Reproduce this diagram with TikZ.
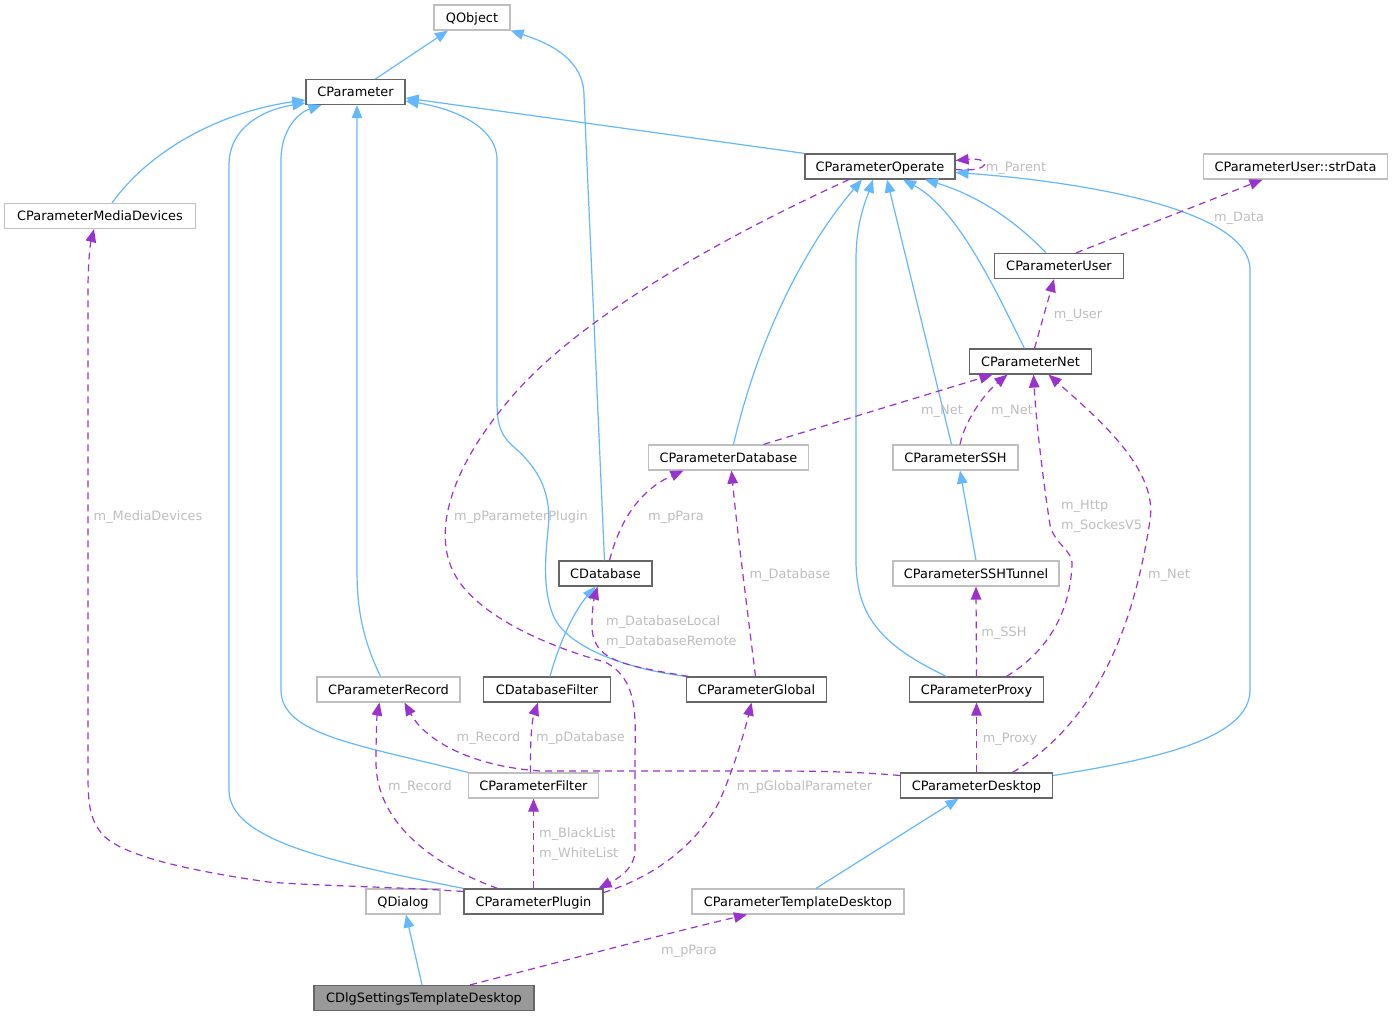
\documentclass[tikz,border=0pt]{standalone}
\usepackage{fontspec}
\setmainfont{DejaVu Sans}
\usetikzlibrary{arrows.meta}
\definecolor{inhc}{HTML}{63B8FF}
\definecolor{usec}{HTML}{9A32CD}
\definecolor{lblc}{HTML}{BEBEBE}
\definecolor{dkb}{HTML}{666666}
\definecolor{ltb}{HTML}{BFBFBF}
\definecolor{rootf}{HTML}{999999}
\begin{document}
\begin{tikzpicture}[x=1pt,y=-1pt,
  every node/.style={font=\fontsize{12.9}{15}\selectfont},
  boxbase/.style={rectangle, minimum height=25pt, inner xsep=2pt, inner ysep=0pt, text height=9.4pt, text depth=0pt, line width=1.2pt, fill=white},
  dkbox/.style={boxbase, draw=dkb},
  ltbox/.style={boxbase, draw=ltb},
  rootbox/.style={boxbase, draw=dkb, fill=rootf},
  lbl/.style={text=lblc, inner sep=0pt, text height=9.4pt, text depth=0pt},
  inh/.style={draw=inhc, line width=1.2pt, -{Triangle[length=13pt,width=10.5pt]}},
  use/.style={draw=usec, line width=1.2pt, dash pattern=on 7pt off 5pt, -{Triangle[length=13pt,width=10.5pt]}},
]
\fill[white] (0,0) rectangle (1393,1016);
\useasboundingbox (0,0) rectangle (1393,1016);

% nodes
\node[ltbox, minimum width=76pt] (qobj) at (472,17.5) {QObject};
\node[dkbox, minimum width=99pt] (cpar) at (355.5,92) {CParameter};
\node[dkbox, minimum width=150pt] (cop) at (880,166.5) {CParameterOperate};
\node[ltbox, minimum width=184pt] (strd) at (1295.5,166.5) {CParameterUser::strData};
\node[ltbox, minimum width=191pt] (cmed) at (100,216) {CParameterMediaDevices};
\node[dkbox, minimum width=129pt] (cuser) at (1059,266) {CParameterUser};
\node[dkbox, minimum width=122pt] (cnet) at (1030.5,361.5) {CParameterNet};
\node[ltbox, minimum width=160pt] (cpdb) at (728.5,457.5) {CParameterDatabase};
\node[ltbox, minimum width=125pt] (cssh) at (955.5,457.5) {CParameterSSH};
\node[dkbox, minimum width=93pt] (cdb) at (605.5,573.5) {CDatabase};
\node[ltbox, minimum width=166pt] (ctun) at (976,573.5) {CParameterSSHTunnel};
\node[ltbox, minimum width=143pt] (crec) at (388.5,689.5) {CParameterRecord};
\node[dkbox, minimum width=127pt] (cdbf) at (547,689.5) {CDatabaseFilter};
\node[dkbox, minimum width=140pt] (cglob) at (756.5,689.5) {CParameterGlobal};
\node[dkbox, minimum width=134pt] (cproxy) at (976.5,689.5) {CParameterProxy};
\node[ltbox, minimum width=130pt] (cfilt) at (533.5,785.5) {CParameterFilter};
\node[dkbox, minimum width=152pt] (cdesk) at (976.5,785.5) {CParameterDesktop};
\node[ltbox, minimum width=74pt] (qdlg) at (403,901.5) {QDialog};
\node[dkbox, minimum width=139pt] (cplug) at (533.5,901.5) {CParameterPlugin};
\node[ltbox, minimum width=212pt] (ctmpl) at (798,901.5) {CParameterTemplateDesktop};
\node[rootbox, minimum width=220pt] (cdlg) at (424,998) {CDlgSettingsTemplateDesktop};

% inheritance edges
\draw[inh] ([xshift=20pt]cpar.north) -- ([xshift=-24pt]qobj.south);
\draw[inh] ([xshift=-1pt]cdb.north) -- (584,96) .. controls (584,62) and (555,45) .. (qobj.south east);
\draw[inh] ([xshift=12pt]cmed.north) .. controls (150,150) and (220,112) .. ([yshift=-8pt]cpar.west);
\draw[inh] ([xshift=-8pt]crec.north) .. controls (363,640) and (357,610) .. (357,570) -- ([xshift=1.5pt]cpar.south);
\draw[inh] (cfilt.north west) .. controls (360,745) and (281,735) .. (281,690) -- (281,160) .. controls (281,128) and (300,112) .. ([xshift=-34pt]cpar.south);
\draw[inh] (cplug.north west) .. controls (330,862) and (229,840) .. (229,790) -- (229,165) .. controls (229,128) and (262,110) .. ([yshift=-11pt]cpar.west);
\draw[inh] (cglob.north west) .. controls (620,668) and (565,645) .. (553,615) .. controls (543,590) and (545,560) .. (548,530) .. controls (552,495) and (540,470) .. (515,448) .. controls (500,435) and (497,425) .. (497,400) -- (497,160) .. controls (497,125) and (450,108) .. ([yshift=-9pt]cpar.east);
\draw[inh] (cop.north west) -- ([yshift=-6pt]cpar.east);
\draw[inh] ([yshift=10pt]cdesk.east) .. controls (1150,760) and (1250,740) .. (1250,690) -- (1250,270) .. controls (1250,205) and (1060,180) .. ([yshift=-6pt]cop.east);
\draw[inh] ([xshift=5pt]cpdb.north) .. controls (760,330) and (810,240) .. ([xshift=-18pt]cop.south);
\draw[inh] ([xshift=-30pt]cproxy.north) .. controls (880,645) and (856,615) .. (856,560) -- (856,260) .. controls (856,222) and (866,200) .. ([xshift=-7pt]cop.south);
\draw[inh] ([xshift=-4pt]cssh.north) -- ([xshift=7pt]cop.south);
\draw[inh] ([xshift=-6pt]cnet.north) .. controls (1000,300) and (960,210) .. ([xshift=23pt]cop.south);
\draw[inh] ([xshift=-13pt]cuser.north) .. controls (1010,215) and (970,193) .. ([xshift=45pt]cop.south);
\draw[inh] (ctun.north) -- ([xshift=4.5pt]cssh.south);
\draw[inh] ([xshift=3pt]cdbf.north) .. controls (560,640) and (575,610) .. ([xshift=-10pt]cdb.south);
\draw[inh] ([xshift=18pt]ctmpl.north) -- ([xshift=-18pt]cdesk.south);
\draw[inh] ([xshift=-2pt]cdlg.north) -- ([xshift=3pt]qdlg.south);

% usage edges
\draw[use] ([yshift=-3pt]cop.east) .. controls (992,173) and (992,157) .. ([yshift=6pt]cop.east);
\draw[use] ([xshift=17pt]cuser.north) -- ([xshift=-33pt]strd.south);
\draw[use] ([xshift=4pt]cnet.north) -- ([xshift=-5pt]cuser.south);
\draw[use] ([xshift=35pt]cpdb.north) -- ([xshift=-38pt]cnet.south);
\draw[use] ([xshift=4.5pt]cssh.north) .. controls (965,420) and (985,393) .. ([xshift=-23pt]cnet.south);
\draw[use] ([xshift=30pt]cproxy.north) .. controls (1050,650) and (1070,610) .. (1072,565) .. controls (1073,550) and (1055,545) .. (1050,525) .. controls (1043,480) and (1036,420) .. ([xshift=3pt]cnet.south);
\draw[use] ([xshift=36pt]cdesk.north) .. controls (1100,720) and (1135,620) .. (1150,520) .. controls (1158,470) and (1100,420) .. ([xshift=18pt]cnet.south);
\draw[use] (cproxy.north) -- (ctun.south);
\draw[use] (cdesk.north) -- (cproxy.south);
\draw[use] ([xshift=4pt]cdb.north) .. controls (620,520) and (640,490) .. ([xshift=-45pt]cpdb.south);
\draw[use] ([xshift=-1pt]cglob.north) .. controls (746,600) and (736,520) .. ([xshift=3pt]cpdb.south);
\draw[use] ([xshift=-68pt]cglob.north) .. controls (620,665) and (592,660) .. (592,625) .. controls (592,605) and (595,595) .. ([xshift=-8pt]cdb.south);
\draw[use] ([xshift=-31pt]cop.south) .. controls (760,220) and (580,310) .. (505,405) .. controls (455,465) and (430,530) .. (455,575) .. controls (480,620) and (560,650) .. (605,662) .. controls (640,680) and (635,720) .. (635,760) -- (635,850) .. controls (635,870) and (615,880) .. ([xshift=-5pt]cplug.north east);
\draw[use] ([yshift=9pt]cplug.east) .. controls (660,875) and (700,840) .. (720,800) .. controls (735,765) and (745,730) .. ([xshift=-5pt]cglob.south);
\draw[use] (cplug.north) -- (cfilt.south);
\draw[use] ([xshift=-36pt]cplug.north) .. controls (420,860) and (375,815) .. (376,760) .. controls (376,735) and (377,715) .. ([xshift=-9pt]crec.south);
\draw[use] ([yshift=10pt]cdesk.west) .. controls (850,771) and (800,771) .. (760,771) -- (540,771) .. controls (470,766) and (425,740) .. ([xshift=16pt]crec.south);
\draw[use] ([xshift=-3pt]cfilt.north) .. controls (530,740) and (532,720) .. ([xshift=-9pt]cdbf.south);
\draw[use] ([yshift=10pt]cplug.west) .. controls (400,887) and (320,886) .. (268,882) .. controls (200,872) and (125,858) .. (103,835) .. controls (90,820) and (88,805) .. (88,775) -- (88,290) .. controls (88,265) and (90,245) .. ([xshift=-6pt]cmed.south);
\draw[use] ([xshift=46pt]cdlg.north) .. controls (560,962) and (660,935) .. ([xshift=-51pt]ctmpl.south);

% labels
\node[lbl] (lParent) at (1016,167) {m\_Parent};
\node[lbl] (lData) at (1239,217) {m\_Data};
\node[lbl] (lUser) at (1078,314) {m\_User};
\node[lbl] (lNet1) at (942,410) {m\_Net};
\node[lbl] (lNet2) at (1012,410) {m\_Net};
\node[lbl, anchor=west] (lHttp) at (1061,505) {m\_Http};
\node[lbl, anchor=west] (lSock) at (1061,525) {m\_SockesV5};
\node[lbl] (lNet3) at (1169,574) {m\_Net};
\node[lbl] (lSSH) at (1004,632) {m\_SSH};
\node[lbl] (lProxy) at (1010,738) {m\_Proxy};
\node[lbl] (lDatabase) at (790,574) {m\_Database};
\node[lbl] (lpPara1) at (676,516) {m\_pPara};
\node[lbl] (lPlugin) at (521,516) {m\_pParameterPlugin};
\node[lbl, anchor=west] (lDbL) at (606,621) {m\_DatabaseLocal};
\node[lbl, anchor=west] (lDbR) at (606,641) {m\_DatabaseRemote};
\node[lbl] (lMedia) at (148,516) {m\_MediaDevices};
\node[lbl] (lRec1) at (488.5,737) {m\_Record};
\node[lbl] (lpDb) at (580.5,737) {m\_pDatabase};
\node[lbl] (lRec2) at (420,786) {m\_Record};
\node[lbl, anchor=west] (lBlack) at (539,833) {m\_BlackList};
\node[lbl, anchor=west] (lWhite) at (539,853) {m\_WhiteList};
\node[lbl] (lGlob) at (804.5,786) {m\_pGlobalParameter};
\node[lbl] (lpPara2) at (689,950) {m\_pPara};
\end{tikzpicture}
\end{document}
